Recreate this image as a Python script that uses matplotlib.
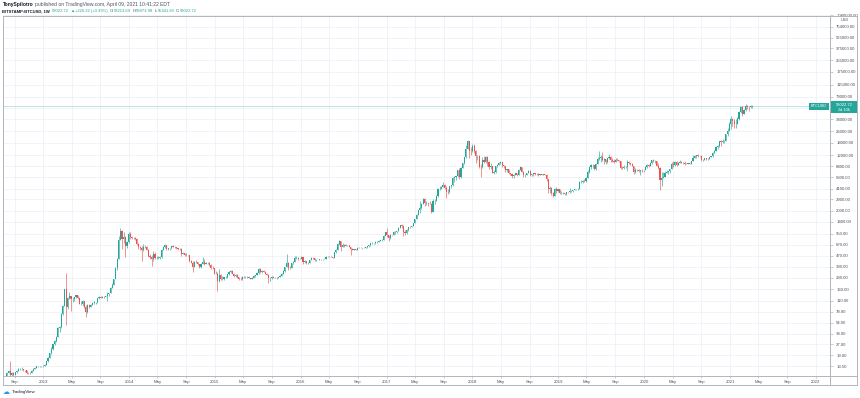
import matplotlib
matplotlib.use('Agg')
import matplotlib.pyplot as plt
import matplotlib.dates as mdates
from matplotlib.patches import Rectangle
from matplotlib.lines import Line2D
import numpy as np
import pandas as pd

plt.rcParams['font.family'] = ['Liberation Sans', 'DejaVu Sans']

# BITSTAMP:BTCUSD weekly candles, first week starts Mon 2012-07-23
first_week = '2012-07-23'
first_open = 8.9

close_2012 = [9.4, 10.9, 11.6, 10.0, 10.8, 10.2, 11.0, 11.6, 12.3, 12.4, 12.4, 11.9, 11.7, 10.9, 10.7, 10.9, 11.6, 12.4, 12.6, 13.4, 13.5, 13.3, 13.4]
high_2012 = [9.6, 11.0, 12.0, 15.9, 11.2, 11.1, 11.2, 11.8, 12.5, 12.7, 12.9, 12.4, 12.0, 11.8, 11.0, 11.1, 11.8, 12.5, 12.9, 13.6, 13.7, 13.6, 13.6]
low_2012 = [8.8, 9.3, 10.8, 8.0, 9.6, 9.8, 10.1, 10.9, 11.5, 12.0, 11.8, 11.6, 11.3, 10.5, 10.4, 10.6, 10.8, 11.5, 12.1, 12.5, 13.0, 13.0, 13.1]

close_2013 = [13.5, 14.0, 15.7, 17.5, 20.4, 23.7, 27.0, 30.0, 34.5, 46.0, 47.0, 71.0, 93.0, 162, 90, 119, 128, 115, 116, 123, 133, 122, 100, 100, 108, 90,
              76, 97, 90, 96, 104, 105, 105, 120, 126, 122, 126, 125, 127, 137, 140, 168, 185, 224, 320, 430, 790, 1030, 800, 870, 640, 730]
high_2013 = [13.8, 14.3, 16.0, 18.0, 20.8, 24.5, 27.5, 31.0, 35.0, 48.0, 48.5, 74.0, 95.0, 163, 266, 125, 145, 130, 125, 125, 134, 133, 123, 110, 112, 110,
             95, 98, 99, 98, 106, 108, 107, 122, 128, 130, 127, 129, 128, 144, 141, 170, 197, 225, 330, 440, 900, 1163, 1070, 1000, 890, 760]
low_2013 = [13.0, 13.3, 14.0, 15.5, 17.5, 20.0, 22.5, 26.5, 29.5, 34.0, 40.0, 46.0, 70.0, 92.0, 50.0, 85.0, 115, 79, 106, 110, 121, 117, 99, 95, 93, 88,
            65, 75, 88, 89, 95, 100, 101, 104, 117, 119, 121, 122, 123, 110, 127, 140, 165, 185, 221, 300, 420, 770, 580, 720, 455, 610]

close_2014 = [935, 860, 830, 830, 810, 680, 620, 600, 560, 630, 630, 565, 460, 450, 420, 500, 435, 435, 440, 445, 570, 630, 655, 590, 600, 600,
              635, 630, 625, 595, 590, 590, 500, 510, 480, 480, 475, 400, 375, 330, 390, 385, 355, 325, 365, 385, 365, 375, 375, 350, 320, 318]
high_2014 = [1000, 1000, 880, 870, 850, 830, 720, 650, 640, 680, 660, 640, 590, 500, 480, 540, 530, 460, 460, 460, 580, 635, 680, 660, 610, 610,
             640, 655, 640, 630, 600, 600, 595, 530, 520, 515, 485, 480, 415, 395, 400, 415, 390, 365, 370, 455, 420, 385, 385, 380, 355, 335]
low_2014 = [720, 800, 800, 800, 780, 660, 580, 560, 400, 540, 610, 560, 450, 430, 340, 400, 420, 425, 420, 430, 440, 560, 610, 560, 565, 570,
            590, 615, 605, 590, 575, 570, 460, 490, 470, 470, 460, 390, 370, 275, 330, 375, 345, 320, 320, 360, 350, 360, 360, 340, 310, 305]

close_2015 = [265, 265, 210, 255, 225, 225, 235, 235, 260, 275, 285, 265, 245, 255, 235, 222, 220, 240, 240, 237, 240, 230, 225, 233, 245, 250,
              270, 310, 275, 290, 280, 265, 257, 228, 229, 240, 230, 231, 233, 238, 246, 263, 285, 325, 375, 320, 322, 370, 390, 435, 440, 420]
high_2015 = [320, 290, 275, 310, 260, 245, 240, 245, 265, 285, 300, 295, 270, 260, 260, 240, 237, 245, 247, 245, 245, 242, 233, 237, 250, 255,
             275, 315, 320, 300, 300, 285, 270, 262, 235, 245, 245, 235, 237, 240, 250, 270, 297, 330, 500, 390, 335, 375, 400, 465, 465, 455]
low_2015 = [260, 260, 152, 205, 215, 215, 218, 230, 233, 255, 270, 258, 240, 240, 233, 215, 215, 218, 232, 232, 233, 228, 220, 222, 228, 240,
            249, 264, 270, 273, 280, 260, 255, 198, 210, 225, 228, 228, 226, 230, 236, 243, 262, 283, 325, 300, 310, 318, 355, 385, 430, 410]

close_2016 = [430, 448, 385, 400, 370, 375, 405, 438, 433, 405, 414, 411, 425, 419, 419, 427, 458, 450, 458, 456, 440, 527, 575, 680, 760, 630, 660,
              650, 665, 660, 625, 590, 570, 580, 575, 610, 605, 610, 600, 612, 615, 640, 655, 700, 705, 700, 730, 730, 765, 770, 790, 890, 995]
high_2016 = [440, 465, 450, 410, 400, 380, 410, 445, 445, 440, 418, 416, 427, 425, 425, 431, 462, 467, 462, 460, 456, 535, 580, 700, 780, 765, 705,
             680, 680, 670, 660, 630, 595, 590, 585, 615, 625, 615, 612, 615, 620, 645, 660, 715, 740, 715, 750, 745, 770, 775, 795, 905, 1000]
low_2016 = [420, 425, 360, 375, 365, 365, 372, 405, 420, 395, 400, 405, 410, 415, 412, 418, 424, 445, 445, 445, 436, 440, 510, 570, 670, 540, 620,
            625, 645, 650, 620, 480, 565, 570, 570, 568, 600, 600, 590, 595, 605, 613, 630, 650, 680, 690, 695, 715, 725, 755, 765, 785, 885]

close_2017 = [910, 820, 920, 915, 1015, 1000, 1050, 1150, 1270, 1230, 1020, 965, 1090, 1190, 1180, 1230, 1350, 1550, 1750, 2030, 2200, 2520, 2950, 2530, 2550, 2500,
              2500, 1920, 2750, 2750, 3230, 4050, 4080, 4350, 4580, 4200, 3680, 3650, 4380, 4600, 5690, 5980, 6150, 7380, 5860, 8040, 9330, 11200, 14800, 19100, 13900, 13700]
high_2017 = [1150, 915, 935, 930, 1030, 1050, 1060, 1200, 1280, 1300, 1250, 1080, 1100, 1200, 1210, 1240, 1350, 1560, 1800, 2080, 2760, 2560, 2980, 2980, 2780, 2600,
             2700, 2550, 2900, 2880, 3280, 4150, 4480, 4400, 4980, 4700, 4400, 4100, 4400, 4650, 5850, 6050, 6200, 7500, 7880, 8100, 9400, 11400, 16800, 19700, 19100, 15500]
low_2017 = [850, 750, 810, 880, 910, 960, 970, 1040, 1140, 1150, 900, 920, 950, 1050, 1150, 1180, 1220, 1340, 1530, 1720, 1850, 2100, 2450, 2300, 2400, 2300,
            2450, 1840, 1910, 2500, 2700, 3150, 3900, 3980, 4300, 4100, 2980, 3450, 3600, 4200, 4500, 5100, 5400, 6000, 5500, 5800, 7900, 9000, 11100, 14500, 11000, 12000]

close_2018 = [16200, 13600, 11600, 11750, 8200, 8100, 10400, 9600, 11450, 9550, 8200, 8450, 6850, 7020, 8350, 8800, 9400, 9650, 8700, 8530, 7350, 7700, 6770, 6500, 6150, 6350,
              6750, 6350, 7400, 8200, 7030, 6300, 6400, 6700, 7280, 6250, 6500, 6700, 6620, 6600, 6300, 6500, 6400, 6500, 6350, 5600, 4000, 4150, 3600, 3220, 3980, 3830]
high_2018 = [17250, 17100, 14000, 12000, 11950, 9000, 11300, 11800, 11700, 11600, 9900, 9200, 8500, 7400, 8450, 9030, 9750, 9990, 9700, 8880, 8600, 7800, 7800, 6850, 6800, 6500,
             6850, 6800, 7650, 8500, 8300, 7120, 6600, 6800, 7400, 7400, 6600, 6800, 6800, 6720, 6700, 6620, 6600, 6580, 6540, 6500, 5650, 4450, 4350, 3660, 4150, 4250]
low_2018 = [13400, 12800, 9200, 10400, 8000, 6000, 8000, 9300, 9400, 8600, 7800, 7800, 6650, 6500, 6800, 8100, 8700, 9000, 8300, 8000, 7000, 7050, 6600, 6300, 5800, 5780,
            6250, 6100, 6250, 7400, 6900, 5900, 5880, 6280, 6650, 6150, 6100, 6200, 6300, 6400, 6200, 6250, 6350, 6300, 6300, 5200, 3500, 3500, 3350, 3150, 3220, 3600]

close_2019 = [4050, 3500, 3530, 3530, 3410, 3650, 3620, 3800, 3810, 3900, 3990, 3990, 4100, 5050, 5070, 5280, 5200, 5770, 6950, 8150, 8700, 8740, 7650, 8950, 10700, 10800,
              11450, 10200, 10550, 9500, 10800, 11400, 10200, 10100, 9600, 10400, 10300, 10000, 8050, 7850, 8300, 8200, 9550, 9200, 9050, 8500, 6900, 7420, 7510, 7090, 7510, 7390]
high_2019 = [4100, 4050, 3750, 3650, 3550, 3700, 3700, 4200, 3900, 3950, 4000, 4050, 4150, 5300, 5450, 5350, 5650, 5900, 7500, 8350, 8950, 9100, 8800, 9350, 11200, 13880,
             12000, 13200, 10900, 10650, 11100, 12300, 11500, 10900, 10700, 10900, 10900, 10300, 10050, 8500, 8650, 8600, 10350, 9950, 9450, 9300, 8600, 7850, 7800, 7600, 7520, 7680]
low_2019 = [3650, 3450, 3450, 3450, 3350, 3370, 3580, 3600, 3700, 3700, 3850, 3920, 3950, 4080, 4900, 4950, 5050, 5100, 5750, 6800, 7600, 8050, 7450, 7550, 8900, 10300,
            9700, 9850, 9100, 9150, 9200, 10700, 9500, 9700, 9350, 9600, 9900, 9700, 7800, 7750, 7800, 7900, 7300, 8900, 8750, 8400, 6500, 6850, 7250, 7000, 6430, 7060]

close_2020 = [7350, 8180, 8700, 8600, 9340, 10150, 9900, 9960, 8530, 8040, 5360, 5830, 5880, 6780, 6900, 7130, 7690, 8900, 8720, 9670, 8720, 9450, 9660, 9340, 9290, 9120, 9070,
              9290, 9170, 9930, 11080, 11680, 11910, 11660, 11680, 10250, 10330, 10920, 10770, 10670, 11380, 11500, 13030, 13800, 15480, 15970, 18680, 18180, 19150, 19150, 23850, 26300, 33000]
high_2020 = [7500, 8450, 9000, 8950, 9600, 10200, 10500, 10300, 9980, 9200, 8180, 6900, 6990, 7180, 7470, 7300, 7800, 9480, 10050, 9920, 9850, 9600, 10400, 9950, 9600, 9800, 9350,
             9450, 9350, 9980, 12100, 12000, 12100, 12480, 11800, 11900, 10600, 11100, 10980, 10950, 11460, 11740, 13350, 14100, 15950, 16470, 18800, 19500, 19900, 19420, 24000, 28400, 34800]
low_2020 = [7050, 7330, 7950, 8250, 8500, 9150, 9550, 9450, 8430, 7650, 3850, 4400, 5700, 5850, 6750, 6500, 6800, 7600, 8100, 8600, 8600, 8650, 9350, 9200, 8900, 8800, 8900,
            9050, 9000, 9100, 9850, 10950, 11100, 11350, 11150, 9900, 9870, 10200, 10150, 10400, 10540, 11150, 11400, 12800, 13500, 14750, 15850, 16300, 18000, 17600, 19000, 21900, 26100]

close_2021 = [38200, 35800, 32280, 33100, 38900, 48600, 57500, 45200, 51200, 59300, 57500, 55800, 57796.40, 58022.72]
high_2021 = [41950, 40100, 37850, 38500, 40900, 49700, 58300, 58000, 52600, 61800, 61200, 58400, 60000, 59473.98]
low_2021 = [27700, 30400, 28800, 29200, 32300, 37300, 47000, 43000, 44900, 49300, 53200, 50400, 54600, 55441.83]

last_price = 58022.72
price_labels = [13.5, 19, 27, 38, 54, 78, 110, 160, 230, 330, 470, 670, 950, 1400, 2000, 2900, 4100, 5900, 8400,
                12000, 18000, 26000, 38000, 79000, 115000, 175000, 255000, 375000, 525000, 754000, 1080000]
hidden_grid = [55000]

UP = '#26a69a'
DOWN = '#ef5350'
GRID = '#eef1f6'
TXT = '#4c525e'
BORDER = '#b2b5be'
W, H = 860, 398

closes = close_2012 + close_2013 + close_2014 + close_2015 + close_2016 + close_2017 + close_2018 + close_2019 + close_2020 + close_2021
highs = high_2012 + high_2013 + high_2014 + high_2015 + high_2016 + high_2017 + high_2018 + high_2019 + high_2020 + high_2021
lows = low_2012 + low_2013 + low_2014 + low_2015 + low_2016 + low_2017 + low_2018 + low_2019 + low_2020 + low_2021
opens = [first_open] + closes[:-1]

weeks = pd.date_range(first_week, periods=len(closes), freq='W-MON')
xd = mdates.date2num(weeks.to_pydatetime())
o = np.array(opens, float)
c = np.array(closes, float)
h = np.maximum(np.array(highs, float), np.maximum(o, c))
l = np.minimum(np.array(lows, float), np.minimum(o, c))
cols = np.where(c >= o, UP, DOWN)


def fx(x):
    return x / W


def fy(y):
    return 1 - y / H


fig = plt.figure(figsize=(W / 100, H / 100), dpi=100)
fig.patch.set_facecolor('white')
ax = fig.add_axes([fx(3), fy(376), fx(830) - fx(3), fy(15) - fy(376)])
ax.set_yscale('log')
for s in ax.spines.values():
    s.set_visible(False)

# price scale: 13.5 sits at y=366px, ~71.5px per decade
ax.set_ylim(13.5 * 10 ** (-10 / 71.5), 13.5 * 10 ** (351 / 71.5))
d0 = mdates.date2num(pd.Timestamp('2013-01-01').to_pydatetime())
ppd = 85.85 / 365.25
ax.set_xlim(d0 - (43.3 - 3) / ppd, d0 + (830 - 43.3) / ppd)

ax.vlines(xd, l, h, colors=cols, lw=0.55, alpha=0.8, zorder=3)
ax.bar(xd, np.abs(c - o), bottom=np.minimum(o, c), width=4.8, color=cols, linewidth=0, zorder=4)

ax.axhline(last_price, color=UP, lw=0.6, alpha=0.35, zorder=2)

ax.yaxis.tick_right()
ax.set_yticks(price_labels)
ax.set_yticklabels([f'{v:.2f}' for v in price_labels])
ax.set_yticks(hidden_grid, minor=True)
ax.yaxis.set_minor_formatter(matplotlib.ticker.NullFormatter())
ax.tick_params(axis='y', which='major', length=2, width=0.5, color=BORDER, pad=2.5, labelsize=3.1, labelcolor=TXT)
ax.tick_params(axis='y', which='minor', length=0)

xticks = pd.date_range('2012-09-01', '2022-01-01', freq='4MS')
ax.set_xticks(mdates.date2num(xticks.to_pydatetime()))
ax.set_xticklabels([str(t.year) if t.month == 1 else t.strftime('%b') for t in xticks])
ax.tick_params(axis='x', length=1.5, width=0.5, color=BORDER, pad=1.5, labelsize=3.1, labelcolor=TXT)

ax.grid(True, which='both', color=GRID, lw=0.6, zorder=0)
ax.set_axisbelow(True)

# panel borders
for (x1, y1, x2, y2) in [(3, 15.5, 857, 15.5), (3, 385, 857, 385), (3, 15.5, 3, 385),
                         (857, 15.5, 857, 385), (829.5, 15.5, 829.5, 385), (3, 376, 857, 376)]:
    fig.add_artist(Line2D([fx(x1), fx(x2)], [fy(y1), fy(y2)], color=BORDER, lw=0.7))

fig.text(fx(845), fy(19.8), 'USD', fontsize=2.8, color=TXT, ha='center', va='center')

# last price labels
fig.add_artist(Rectangle((fx(830), fy(113)), fx(858) - fx(830), fy(101.5) - fy(113), color=UP, lw=0))
fig.text(fx(844), fy(105.2), f'{last_price:.2f}', fontsize=3.0, color='white', ha='center', va='center')
fig.text(fx(844), fy(110.2), '2d 10h', fontsize=2.8, color='white', ha='center', va='center')
fig.add_artist(Rectangle((fx(809), fy(109.5)), fx(829) - fx(809), fy(103) - fy(109.5), color=UP, lw=0))
fig.text(fx(819), fy(106.3), 'BTCUSD', fontsize=2.8, color='white', ha='center', va='center')


def chain(y, pieces, size, x0=2.5):
    r = fig.canvas.get_renderer()
    sp = size * 100 / 72 * 0.28
    x = x0
    for s, col, bold, gap in pieces:
        t = fig.text(fx(x), fy(y), s, fontsize=size, color=col,
                     fontweight='bold' if bold else 'normal', ha='left', va='center')
        x += t.get_window_extent(r).width + gap * sp
    return x


DARK = '#131722'
GRAY = '#50535e'
line1 = [('TonySpilotro', DARK, True, 1), ('published on TradingView.com, April 09, 2021 10:41:22 EDT', GRAY, False, 0)]
line2 = [('BITSTAMP:BTCUSD, 1W', DARK, True, 1.5), ('58022.72', UP, False, 1), ('▲', UP, False, 1),
         ('+226.32 (+0.39%)', UP, False, 1.5),
         ('O:', GRAY, False, 0), ('58213.69', UP, False, 1), ('H:', GRAY, False, 0), ('59473.98', UP, False, 1),
         ('L:', GRAY, False, 0), ('55441.83', UP, False, 1), ('C:', GRAY, False, 0), ('58022.72', UP, False, 0)]
chain(4.5, line1, 3.65)
chain(11.2, line2, 3.0)

fig.text(fx(6), fy(392), '\u2601', fontsize=5, color='#2196f3', ha='center', va='center', family='DejaVu Sans')
fig.text(fx(12), fy(392), 'TradingView', fontsize=3.2, color=DARK, ha='left', va='center')

fig.savefig('out.png', dpi=100, facecolor='white')
